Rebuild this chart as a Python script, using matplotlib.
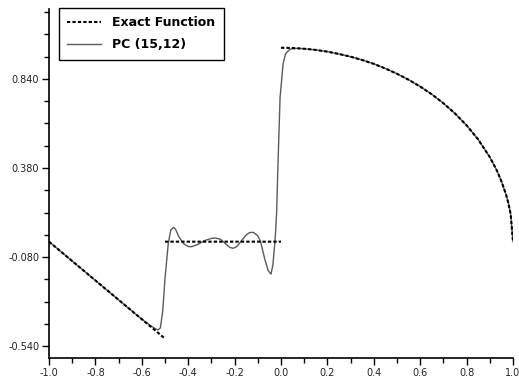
import numpy as np
import matplotlib
matplotlib.use("Agg")
import matplotlib.pyplot as plt
from matplotlib.ticker import MultipleLocator, FixedLocator, FormatStrFormatter

# exact function, three pieces separated by nan
exact_x = [-1.0, -0.5, np.nan,
           -0.5, 0.0, np.nan,
           0.0, 0.05, 0.1, 0.15, 0.2, 0.25, 0.3, 0.35, 0.4, 0.45, 0.5, 0.55,
           0.6, 0.65, 0.7, 0.75, 0.8, 0.85, 0.9, 0.93, 0.95, 0.97, 0.98, 0.99, 1.0]
exact_y = [0.0, -0.5, np.nan,
           0.0, 0.0, np.nan,
           1.0, 0.999, 0.995, 0.989, 0.98, 0.968, 0.954, 0.937, 0.917, 0.893, 0.866, 0.835,
           0.8, 0.76, 0.714, 0.661, 0.6, 0.527, 0.436, 0.368, 0.312, 0.243, 0.199, 0.141, 0.0]

# PC (15,12) approximation
pc_x = [-1.0, -0.9, -0.8, -0.7, -0.6, -0.56, -0.54, -0.53, -0.52, -0.51, -0.50,
        -0.486, -0.475, -0.464, -0.455, -0.44, -0.42, -0.40, -0.385, -0.36, -0.33,
        -0.30, -0.284, -0.26, -0.24, -0.22, -0.206, -0.19, -0.17, -0.15, -0.135,
        -0.119, -0.10, -0.088, -0.07, -0.055, -0.043, -0.035, -0.026, -0.019,
        -0.013, -0.004, 0.009, 0.02, 0.039, 0.07, 0.1, 0.15, 0.2, 0.25, 0.3, 0.35,
        0.4, 0.45, 0.5, 0.55, 0.6, 0.65, 0.7, 0.75, 0.8, 0.85, 0.9, 0.93, 0.95,
        0.97, 0.98, 0.99, 1.0]
pc_y = [0.0, -0.1, -0.2, -0.3, -0.4, -0.435, -0.45, -0.455, -0.445, -0.36, -0.19,
        -0.01, 0.06, 0.074, 0.065, 0.025, -0.01, -0.025, -0.026, -0.015, 0.005,
        0.017, 0.019, 0.012, -0.01, -0.03, -0.034, -0.025, 0.005, 0.035, 0.047,
        0.048, 0.03, 0.0, -0.09, -0.15, -0.167, -0.12, 0.0, 0.144,
        0.40, 0.744, 0.917, 0.97, 0.993, 0.997, 0.995, 0.989, 0.98, 0.968, 0.954, 0.937,
        0.917, 0.893, 0.866, 0.835, 0.8, 0.76, 0.714, 0.661, 0.6, 0.527, 0.436, 0.368, 0.312,
        0.243, 0.199, 0.141, 0.0]

yticks = [-0.54, -0.08, 0.38, 0.84]

fig = plt.figure(figsize=(5.19, 3.79), dpi=100)
ax = fig.add_axes([49/519, 21/379, 464/519, 349/379])

ax.plot(pc_x, pc_y, color="#5a5a5a", lw=1.0, label="PC (15,12)", zorder=2)
ax.plot(exact_x, exact_y, color="black", lw=1.5, linestyle=(0, (1.6, 1)),
        label="Exact Function", zorder=3)

ax.set_xlim(-1.0, 1.0)
ax.set_ylim(-0.6, 1.2)
ax.spines["top"].set_visible(False)
ax.spines["right"].set_visible(False)
for s in ("left", "bottom"):
    ax.spines[s].set_linewidth(1.2)

ax.xaxis.set_major_locator(MultipleLocator(0.2))
ax.xaxis.set_minor_locator(MultipleLocator(0.1))
ax.xaxis.set_major_formatter(FormatStrFormatter("%.1f"))
ax.yaxis.set_major_locator(FixedLocator(yticks))
ax.yaxis.set_minor_locator(FixedLocator([0.955, 1.07, 1.185, 0.725, 0.61, 0.495,
                                         0.265, 0.15, 0.035, -0.195, -0.31, -0.425]))
ax.yaxis.set_major_formatter(FormatStrFormatter("%.3f"))
ax.tick_params(which="major", direction="out", length=5, width=1, labelsize=7,
               labelcolor="#222222", pad=2)
ax.tick_params(which="minor", direction="out", length=3.5, width=1)

h, l = ax.get_legend_handles_labels()
leg = ax.legend(h[::-1], l[::-1], loc="upper left", bbox_to_anchor=(0.022, 1.003),
                frameon=True, fancybox=False, edgecolor="black", framealpha=1,
                prop={"weight": "bold", "size": 9}, handlelength=2.7,
                borderpad=0.65, labelspacing=0.75, handletextpad=0.9, borderaxespad=0)
leg.get_frame().set_linewidth(1.0)

fig.savefig("out.png", dpi=100)
